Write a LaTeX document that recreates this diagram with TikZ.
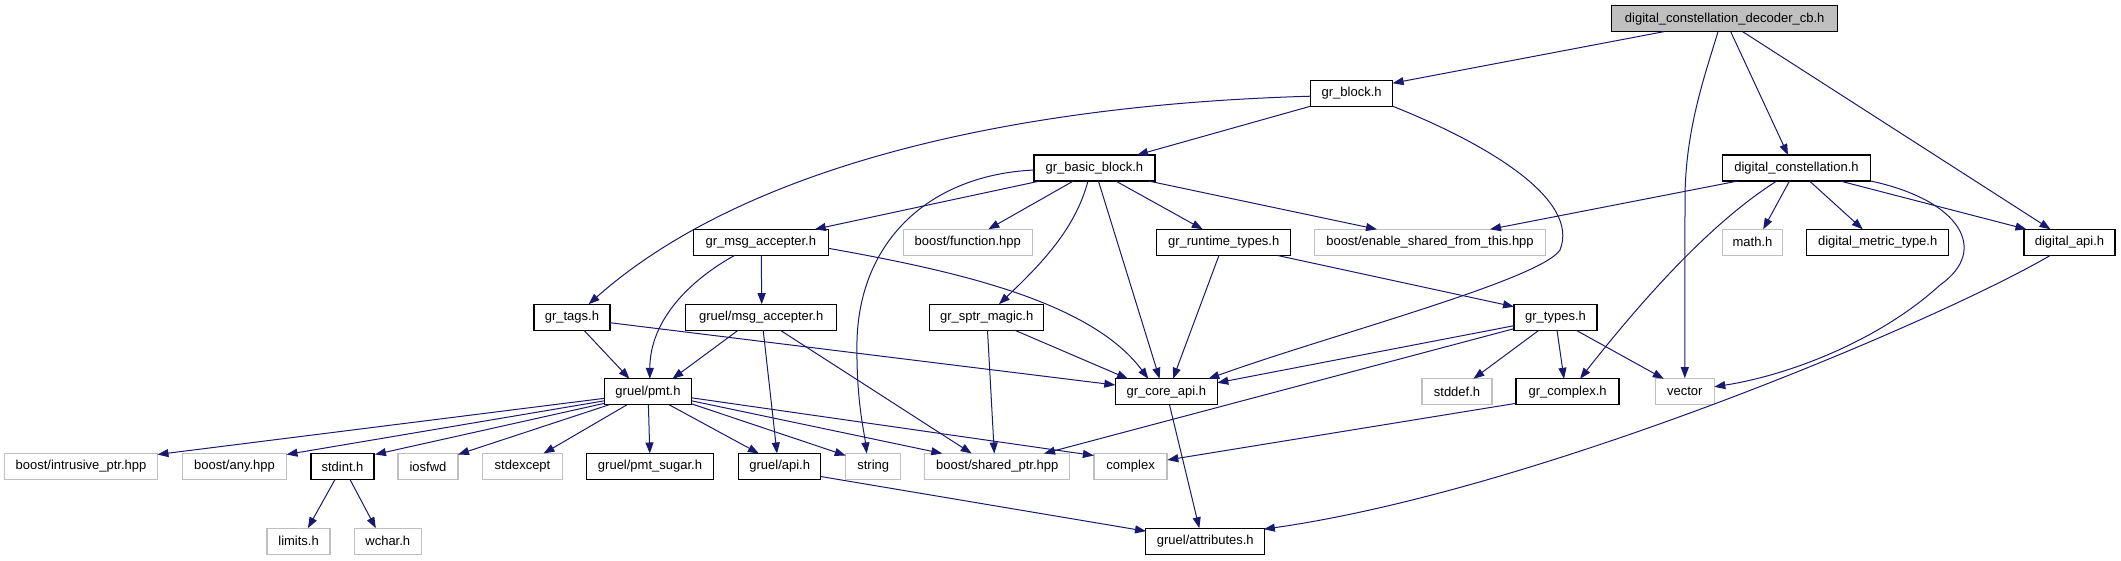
\documentclass[tikz,border=0pt]{standalone}
\usepackage{fontspec}
\setmainfont{Liberation Sans}
\usetikzlibrary{arrows.meta,calc}
\definecolor{edgec}{HTML}{191970}
\definecolor{extc}{HTML}{BFBFBF}
\begin{document}
\begin{tikzpicture}[x=1pt,y=-1pt,
  docbox/.style={draw=black, line width=1.3pt, minimum height=26pt, inner sep=0pt,
                 font=\fontsize{13}{15}\selectfont, text=black},
  extbox/.style={docbox, draw=extc},
  rootbox/.style={docbox, fill=extc},
  dep/.style={draw=edgec, line width=1pt, -{Triangle[length=11pt,width=8pt]}}]
\useasboundingbox (0,0) rectangle (2121,560);
% nodes
\node[rootbox, minimum width=226pt] (dec) at (1724.7,18.7) {digital\_constellation\_decoder\_cb.h};
\node[docbox, minimum width=82pt] (gblock) at (1351.6,93.2) {gr\_block.h};
\node[docbox, minimum width=121pt] (gbasic) at (1094.4,168) {gr\_basic\_block.h};
\node[docbox, minimum width=148pt] (dconst) at (1796.5,168) {digital\_constellation.h};
\node[docbox, minimum width=135pt] (gmsg) at (760.8,242.3) {gr\_msg\_accepter.h};
\node[extbox, minimum width=129pt] (bfunc) at (967.8,242.3) {boost/function.hpp};
\node[docbox, minimum width=134pt] (grt) at (1223.7,242.3) {gr\_runtime\_types.h};
\node[extbox, minimum width=231pt] (besft) at (1430,242.3) {boost/enable\_shared\_from\_this.hpp};
\node[extbox, minimum width=60pt] (math) at (1752.5,242.3) {math.h};
\node[docbox, minimum width=142pt] (dmt) at (1877.7,242.3) {digital\_metric\_type.h};
\node[docbox, minimum width=91pt] (dapi) at (2069.5,242.3) {digital\_api.h};
\node[docbox, minimum width=76pt] (gtags) at (571.9,317.2) {gr\_tags.h};
\node[docbox, minimum width=151pt] (gmsga) at (761.2,317.2) {gruel/msg\_accepter.h};
\node[docbox, minimum width=114pt] (gsptr) at (986.7,317.2) {gr\_sptr\_magic.h};
\node[docbox, minimum width=83pt] (gtypes) at (1555.5,317.2) {gr\_types.h};
\node[docbox, minimum width=87pt] (pmt) at (648,391.8) {gruel/pmt.h};
\node[docbox, minimum width=102pt] (gcore) at (1166.3,391.8) {gr\_core\_api.h};
\node[extbox, minimum width=70pt] (stddef) at (1457,391.8) {stddef.h};
\node[docbox, minimum width=103pt] (gcomplex) at (1567.6,391.8) {gr\_complex.h};
\node[extbox, minimum width=59pt] (vector) at (1684.8,391.8) {vector};
\node[extbox, minimum width=153pt] (bip) at (81,466.5) {boost/intrusive\_ptr.hpp};
\node[extbox, minimum width=104pt] (bany) at (234.5,466.5) {boost/any.hpp};
\node[docbox, minimum width=63pt] (stdint) at (342.5,466.5) {stdint.h};
\node[extbox, minimum width=60pt] (iosfwd) at (428,466.5) {iosfwd};
\node[extbox, minimum width=80pt] (stdexcept) at (522.5,466.5) {stdexcept};
\node[docbox, minimum width=127pt] (pmtsugar) at (650,466.5) {gruel/pmt\_sugar.h};
\node[docbox, minimum width=82pt] (gapi) at (779.7,466.5) {gruel/api.h};
\node[extbox, minimum width=55pt] (string) at (873.2,466.5) {string};
\node[extbox, minimum width=145pt] (bsp) at (997.3,466.5) {boost/shared\_ptr.hpp};
\node[extbox, minimum width=73pt] (complex) at (1130.6,466.5) {complex};
\node[extbox, minimum width=63pt] (limits) at (298.6,541.2) {limits.h};
\node[extbox, minimum width=67pt] (wchar) at (387.8,541.2) {wchar.h};
\node[docbox, minimum width=119pt] (gattr) at (1205.3,541.2) {gruel/attributes.h};
% edges
\draw[dep] ($(dec)+(-61,13)$) -- ($(gblock)+(41,-10)$);
\draw[dep] ($(dec)+(-6.7,13)$) .. controls (1705,75) and (1685,130) .. (1685,200) -- (vector.north);
\draw[dep] ($(dec)+(6,13)$) -- ($(dconst)+(-8.5,-13)$);
\draw[dep] ($(dec)+(18,13)$) -- ($(dapi)+(-19,-13)$);
\draw[dep] ($(gblock)+(-41,13)$) -- ($(gbasic)+(42.6,-13)$);
\draw[dep] ($(gblock)+(-41,3)$) .. controls (1000,105) and (740,170) .. ($(gtags)+(16.7,-13)$);
\draw[dep] ($(gblock)+(41,13)$) .. controls (1490,145) and (1580,200) .. (1560,250)
   .. controls (1540,280) and (1330,335) .. ($(gcore)+(42,-13)$);
\draw[dep] ($(gbasic)+(-54.4,13)$) -- ($(gmsg)+(54,-13)$);
\draw[dep] ($(gbasic)+(-21,13)$) -- ($(bfunc)+(20.5,-13)$);
\draw[dep] ($(gbasic)+(21.3,13)$) -- ($(grt)+(-21,-13)$);
\draw[dep] ($(gbasic)+(54,13)$) -- ($(besft)+(-53,-13)$);
\draw[dep] ($(gbasic)+(-60.5,2)$) .. controls (930,175) and (860,240) .. (857,340)
   .. controls (856,400) and (864,430) .. ($(string)+(-6.5,-13)$);
\draw[dep] ($(gbasic)+(-6.4,13)$) .. controls (1075,230) and (1040,265) .. ($(gsptr)+(12.3,-13)$);
\draw[dep] ($(gbasic)+(4,13)$) -- ($(gcore)+(-6.7,-13)$);
\draw[dep] ($(dconst)+(-58.5,13)$) -- ($(besft)+(60,-13)$);
\draw[dep] ($(dconst)+(-19.7,13)$) .. controls (1715,220) and (1650,290) .. ($(gcomplex)+(12.4,-13)$);
\draw[dep] ($(dconst)+(-7,13)$) -- ($(math)+(10.7,-13)$);
\draw[dep] ($(dconst)+(13,13)$) -- ($(dmt)+(-15,-13)$);
\draw[dep] ($(dconst)+(43.5,13)$) -- ($(dapi)+(-43,-13)$);
\draw[dep] ($(dconst)+(74,13)$) .. controls (1960,200) and (1990,250) .. (1940,285)
   .. controls (1880,340) and (1790,375) .. ($(vector)+(29.5,-5)$);
\draw[dep] ($(dapi)+(-19,13)$) .. controls (1940,320) and (1540,490) .. ($(gattr)+(58.5,-12)$);
\draw[dep] ($(gmsg)+(0.5,13)$) -- ($(gmsga)+(0.5,-13)$);
\draw[dep] ($(gmsg)+(-26,13)$) .. controls (690,280) and (650,320) .. ($(pmt)+(1.8,-13)$);
\draw[dep] ($(gmsg)+(67.5,6)$) .. controls (950,270) and (1090,300) .. ($(gcore)+(-18,-13)$);
\draw[dep] ($(grt)+(-4.7,13)$) -- ($(gcore)+(6.7,-13)$);
\draw[dep] ($(grt)+(53,13)$) -- ($(gtypes)+(-41.5,-10.5)$);
\draw[dep] ($(gtags)+(12,13)$) -- ($(pmt)+(-18.5,-13)$);
\draw[dep] ($(gtags)+(38,5.5)$) -- ($(gcore)+(-51,-6.8)$);
\draw[dep] ($(gmsga)+(-23,13)$) -- ($(pmt)+(24.4,-13)$);
\draw[dep] ($(gmsga)+(2,13)$) -- ($(gapi)+(-2.7,-13)$);
\draw[dep] ($(gmsga)+(19,13)$) -- ($(bsp)+(-25.6,-13)$);
\draw[dep] ($(gsptr)+(28,13)$) -- ($(gcore)+(-38.3,-13)$);
\draw[dep] ($(gsptr)+(0.8,13)$) -- ($(bsp)+(-3,-13)$);
\draw[dep] ($(gtypes)+(-41.5,8.5)$) -- ($(gcore)+(51,-9)$);
\draw[dep] ($(gtypes)+(-41.5,11.5)$) -- ($(bsp)+(46.7,-13)$);
\draw[dep] ($(gtypes)+(-16.5,13)$) -- ($(stddef)+(16.4,-13)$);
\draw[dep] ($(gtypes)+(1.5,13)$) -- ($(gcomplex)+(-3.6,-13)$);
\draw[dep] ($(gtypes)+(20.5,13)$) -- ($(vector)+(-21,-13)$);
\draw[dep] ($(pmt)+(-43.5,6.5)$) -- ($(bip)+(76.5,-12)$);
\draw[dep] ($(pmt)+(-43.5,9)$) -- ($(bany)+(52,-12)$);
\draw[dep] ($(pmt)+(-43.5,11.5)$) -- ($(stdint)+(32.5,-12)$);
\draw[dep] ($(pmt)+(-39,13)$) -- ($(iosfwd)+(30,-12)$);
\draw[dep] ($(pmt)+(-21,13)$) -- ($(stdexcept)+(21,-13)$);
\draw[dep] ($(pmt)+(0.4,13)$) -- ($(pmtsugar)+(-0.2,-13)$);
\draw[dep] ($(pmt)+(21.2,13)$) -- ($(gapi)+(-20.8,-13)$);
\draw[dep] ($(pmt)+(43.5,12)$) -- ($(string)+(-27.5,-11)$);
\draw[dep] ($(pmt)+(43.5,9)$) -- ($(bsp)+(-55,-13)$);
\draw[dep] ($(pmt)+(43.5,6)$) -- ($(complex)+(-36.7,-11)$);
\draw[dep] ($(gcore)+(3.2,13)$) -- ($(gattr)+(-6,-13)$);
\draw[dep] ($(gcomplex)+(-51.5,11.5)$) -- ($(complex)+(36.7,-6.5)$);
\draw[dep] ($(stdint)+(-7.5,13)$) -- ($(limits)+(9.3,-13)$);
\draw[dep] ($(stdint)+(7.5,13)$) -- ($(wchar)+(-12,-13)$);
\draw[dep] ($(gapi)+(41,10)$) -- ($(gattr)+(-59.3,-10)$);
\end{tikzpicture}
\end{document}
